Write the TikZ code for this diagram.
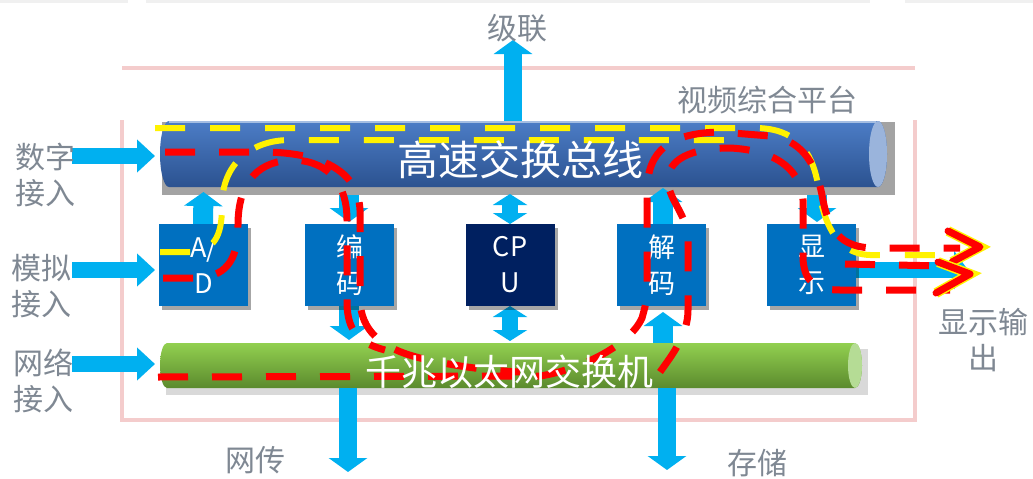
\documentclass[tikz,border=0pt]{standalone}
\usepackage{fontspec}
\newfontfamily\cjk{Noto Sans CJK SC}
\usetikzlibrary{arrows.meta,shadows}
\definecolor{ablue}{HTML}{00B0F0}
\definecolor{boxblue}{HTML}{0070C0}
\definecolor{cpublue}{HTML}{002060}
\definecolor{lblgray}{HTML}{7F8893}
\definecolor{pinkf}{HTML}{F4CCCC}
\definecolor{bustop}{HTML}{4C7DC6}
\definecolor{busbot}{HTML}{2B5290}
\definecolor{buscap}{HTML}{9AB4DC}
\definecolor{gtop}{HTML}{92D050}
\definecolor{gbot}{HTML}{5B8A2D}
\definecolor{gcap}{HTML}{B5DC95}
\begin{document}
\begin{tikzpicture}[x=1pt,y=-1pt,
  box/.style={minimum width=89pt,minimum height=82pt,inner sep=0pt,text=white,align=center,
    font=\cjk\fontsize{27}{36}\selectfont,
    drop shadow={shadow xshift=3pt,shadow yshift=-4pt,opacity=.35,fill=black}},
  lbl/.style={text=lblgray,align=center,inner sep=0pt,font=\cjk\fontsize{30}{36}\selectfont},
  bustext/.style={text=white,inner sep=0pt,font=\cjk\fontsize{41}{44}\selectfont},
  barrow/.style={draw=ablue,line width=18pt,-{Triangle[length=14pt,width=38pt]}},
  inarrow/.style={draw=ablue,line width=16pt,-{Triangle[length=18pt,width=32pt]}},
  dbarrow/.style={draw=ablue,line width=16pt,{Triangle[length=11pt,width=34pt]}-{Triangle[length=11pt,width=34pt]}},
  rdash/.style={draw=red,line width=7pt,dash pattern=on 30pt off 24pt},
  ydash/.style={draw=yellow,line width=6pt,dash pattern=on 30pt off 25pt},
  chev/.style={draw=red,line width=7pt,line cap=round,line join=round,
    preaction={draw=yellow,line width=10pt}}
]
\useasboundingbox (0,0) rectangle (1033,479);
\fill[white] (0,0) rectangle (1033,479);
% faint fragments at the top edge
\fill[black!6] (0,0) rectangle (128,3);
\fill[black!6] (146,0) rectangle (870,3);
\fill[black!6] (905,0) rectangle (1033,3);

% platform frame
\draw[pinkf,line width=4pt] (122,68) -- (915,68);
\draw[pinkf,line width=4pt] (122,120) -- (122,420) -- (915,420) -- (915,120);

% high-speed bus
\fill[black!36] (162,122) rectangle (895,195);
\shade[top color=bustop,bottom color=busbot] (878,121) -- (169,121)
  arc[start angle=90,end angle=270,x radius=9pt,y radius=33pt] -- (878,187)
  arc[start angle=270,end angle=450,x radius=9pt,y radius=33pt] -- cycle;
\fill[buscap] (878,154) ellipse[x radius=9pt,y radius=33pt];
\draw[bustop!50!white,line width=1.5pt] (169,122) -- (876,122);

% gigabit switch
\fill[black,opacity=.15] (166,349) rectangle (868,395);
\shade[top color=gtop,bottom color=gbot] (855,343) -- (167,343)
  arc[start angle=90,end angle=270,x radius=7pt,y radius=22.5pt] -- (855,388)
  arc[start angle=270,end angle=450,x radius=7pt,y radius=22.5pt] -- cycle;
\fill[gcap] (855,365.5) ellipse[x radius=7pt,y radius=22.5pt];

% coordinates
\coordinate (busN) at (513,121);
\coordinate (busS) at (0,192);
\coordinate (jl) at (513,40);
\coordinate (szin) at (72,156);
\coordinate (szend) at (155,156);
\coordinate (mnin) at (72,270);
\coordinate (mnend) at (155,270);
\coordinate (wlin) at (72,364);
\coordinate (wlend) at (155,364);
\coordinate (wc1) at (348,388);
\coordinate (wc2) at (348,472);
\coordinate (cc1) at (667,388);
\coordinate (cc2) at (667,470);
\coordinate (outst) at (850,270);
\coordinate (outend) at (968,270);

% boxes (positions)
\path (203.5,265) coordinate (adpos) (349.5,265) coordinate (encpos)
      (510,265) coordinate (cpupos) (661.5,265) coordinate (decpos)
      (811.5,265) coordinate (disppos);

% blue arrows
\draw[barrow] (busN) -- (jl);
\draw[inarrow] (szin) -- (szend);
\draw[inarrow] (mnin) -- (mnend);
\draw[inarrow] (wlin) -- (wlend);
\draw[barrow] (wc1) -- (wc2);
\draw[barrow] (cc1) -- (cc2);
\draw[barrow,line width=20pt] (203,224) -- (adpos |- busS);
\draw[barrow,line width=20pt] (349,195) -- (349,222);
\draw[dbarrow] (510,194) -- (510,224);
\draw[barrow,line width=20pt] (663,224) -- (663,188);
\draw[barrow,line width=20pt] (817,195) -- (817,222);
\draw[barrow,line width=20pt] (349,306) -- (349,340);
\draw[dbarrow] (510,306) -- (510,341);
\draw[barrow,line width=20pt] (663,343) -- (663,312);
\draw[barrow,line width=16pt] (outst) -- (outend);

% boxes
\node[box,fill=boxblue] (ad) at (adpos) {A/\\D};
\node[box,fill=boxblue] (enc) at (encpos) {编\\码};
\node[box,fill=cpublue] (cpu) at (cpupos) {CP\\U};
\node[box,fill=boxblue] (dec) at (decpos) {解\\码};
\node[box,fill=boxblue] (disp) at (disppos) {显\\示};

% labels
\node[lbl] (ljl) at (517,28) {级联};
\node[lbl] (lpt) at (767,100) {视频综合平台};
\node[lbl] (lsz) at (45,175) {数字\\接入};
\node[lbl] (lmn) at (41,286) {模拟\\接入};
\node[lbl] (lwl) at (43,381) {网络\\接入};
\node[lbl] (lwc) at (255,460) {网传};
\node[lbl] (lcc) at (757,463) {存储};
\node[lbl] (lout) at (983,340) {显示输\\出};

% data flow annotations
\draw[ydash] (155,128) -- (755,128) .. controls (795,128) and (812,150) .. (818,185)
  .. controls (823,220) and (835,254) .. (870,255) -- (955,255);
\draw[ydash] (160,252) -- (192,252) .. controls (218,250) and (222,230) .. (222,205)
  .. controls (222,165) and (250,140) .. (290,140) -- (745,140);
\draw[rdash] (165,152) -- (262,152) .. controls (310,152) and (358,165) .. (360,210)
  -- (360,300) .. controls (361,330) and (380,348) .. (420,358)
  .. controls (450,365) and (480,370) .. (520,372);
\draw[rdash] (163,278) -- (198,278) .. controls (230,276) and (238,255) .. (238,225)
  .. controls (238,180) and (260,160) .. (295,160) .. controls (330,162) and (347,185) .. (347,220)
  -- (347,305) .. controls (348,330) and (358,343) .. (385,350);
\draw[rdash] (158,377) -- (540,376) .. controls (580,370) and (630,345) .. (642,318)
  .. controls (647,300) .. (647,280) -- (647,190) .. controls (648,150) and (670,133) .. (720,132)
  -- (770,136) .. controls (800,140) and (815,160) .. (822,195)
  .. controls (828,230) and (840,248) .. (875,248) -- (960,248);
\draw[rdash] (845,264) -- (945,266);
\draw[rdash] (660,372) .. controls (672,355) and (688,335) .. (688,310) -- (688,240)
  .. controls (688,215) and (668,200) .. (668,180) .. controls (668,160) and (690,148) .. (730,148)
  .. controls (770,150) and (800,165) .. (803,200) -- (803,260)
  .. controls (805,282) and (815,290) .. (840,290) -- (950,290);
\draw[chev] (948,231) -- (980,247) -- (952,262);
\draw[chev] (938,262) -- (970,274) -- (936,293);

% bus texts
\node[bustext] (bustxt) at (520,160) {高速交换总线};
\node[bustext,font=\cjk\fontsize{36}{40}\selectfont] (gtxt) at (509,372) {千兆以太网交换机};
\end{tikzpicture}
\end{document}
